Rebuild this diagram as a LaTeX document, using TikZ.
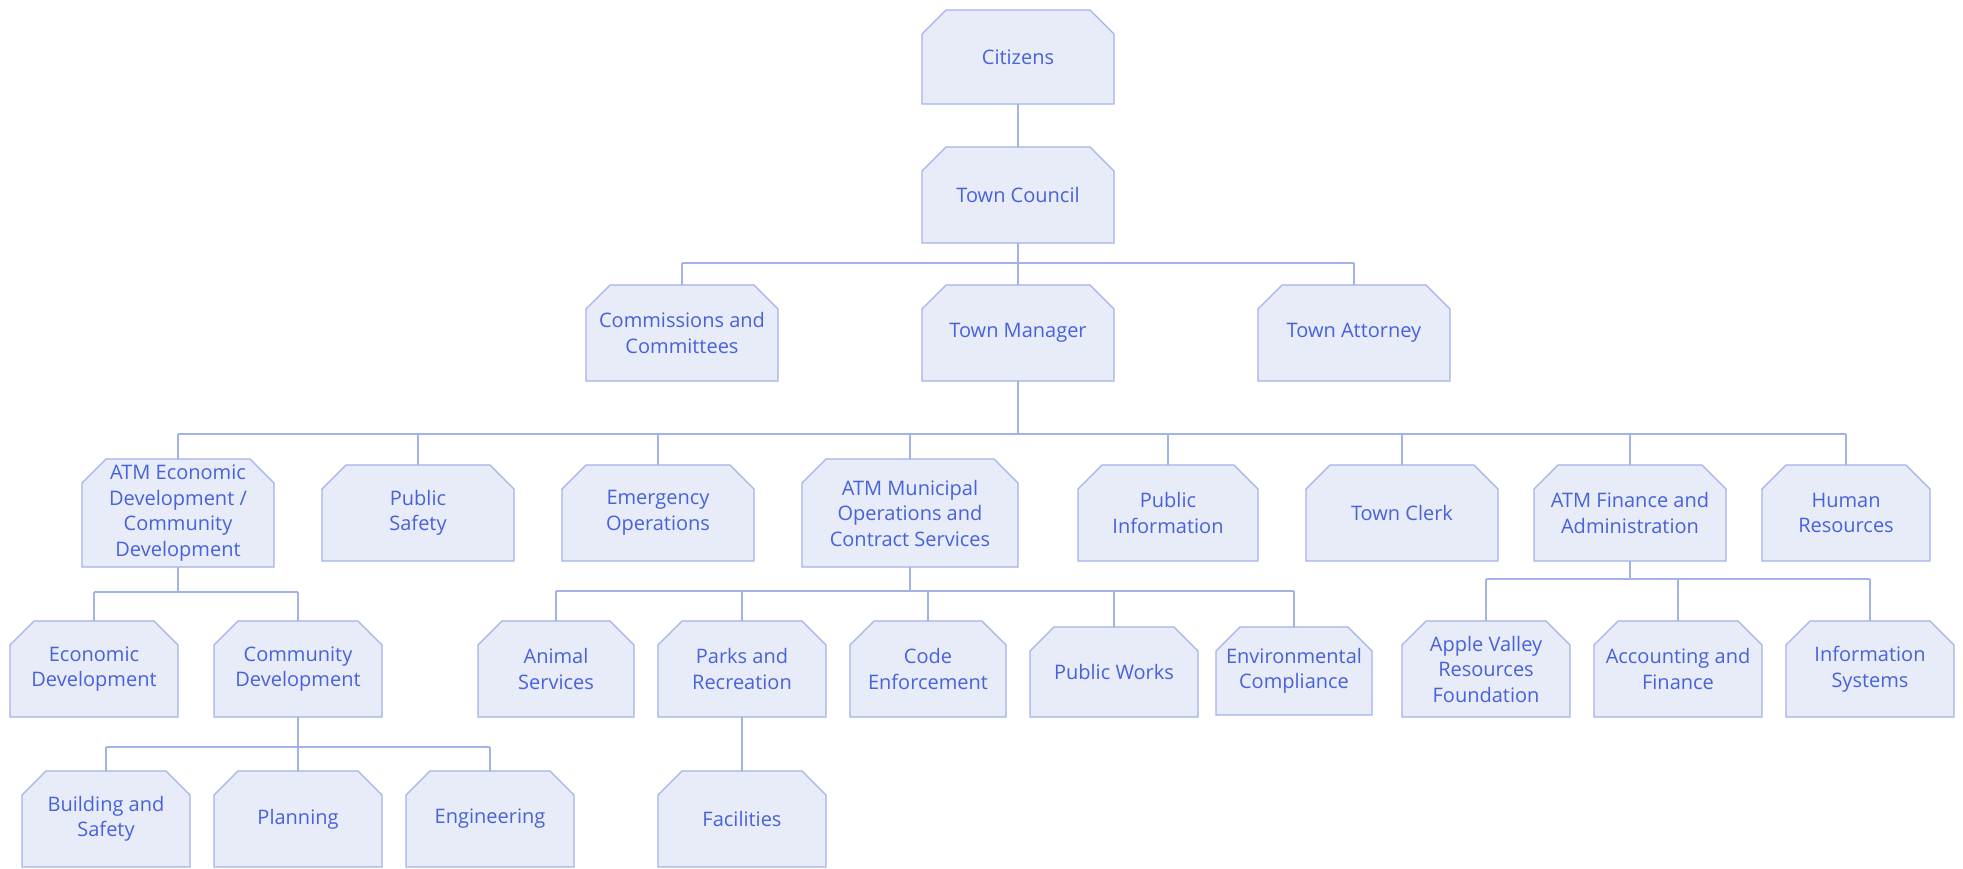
\documentclass[tikz,border=0pt]{standalone}
\usepackage{fontspec}
\setmainfont{Open Sans}
\usetikzlibrary{backgrounds}
\definecolor{orgFill}{HTML}{E8ECF8}
\definecolor{orgLine}{HTML}{A4B2EA}
\definecolor{orgText}{HTML}{4762DA}

\begin{document}
\begin{tikzpicture}[x=1pt, y=-1pt,
    orgbox/.style={rectangle, inner sep=0pt, outer sep=0pt,
        text=orgText, align=center, font=\fontsize{20}{25.5}\selectfont},
    boxline/.style={draw=orgLine, fill=orgFill, line width=1.2pt},
    link/.style={draw=orgLine, line width=1.2pt}]
    \useasboundingbox (0,0) rectangle (1963,868);
    % top of the chart
    \node[orgbox, minimum width=192pt, minimum height=94pt] (cit) at (1018,57) {Citizens};
    \node[orgbox, minimum width=192pt, minimum height=96pt] (council) at (1018,195) {Town Council};
    \node[orgbox, minimum width=192pt, minimum height=96pt] (comm) at (682,333) {Commissions and\\ Committees};
    \node[orgbox, minimum width=192pt, minimum height=96pt] (mgr) at (1018,333) {Town Manager};
    \node[orgbox, minimum width=192pt, minimum height=96pt] (atty) at (1354,333) {Town Attorney};
    % departments
    \node[orgbox, minimum width=192pt, minimum height=108pt] (econatm) at (178,513) {ATM Economic\\ Development /\\ Community\\ Development};
    \node[orgbox, minimum width=192pt, minimum height=96pt] (safety) at (418,513) {Public\\ Safety};
    \node[orgbox, minimum width=192pt, minimum height=96pt] (emerg) at (658,513) {Emergency\\ Operations};
    \node[orgbox, minimum width=216pt, minimum height=108pt] (muni) at (910,513) {ATM Municipal\\ Operations and\\ Contract Services};
    \node[orgbox, minimum width=180pt, minimum height=96pt] (pinfo) at (1168,513) {Public\\ Information};
    \node[orgbox, minimum width=192pt, minimum height=96pt] (clerk) at (1402,513) {Town Clerk};
    \node[orgbox, minimum width=192pt, minimum height=96pt] (fin) at (1630,513) {ATM Finance and\\ Administration};
    \node[orgbox, minimum width=168pt, minimum height=96pt] (hr) at (1846,513) {Human\\ Resources};
    % divisions
    \node[orgbox, minimum width=168pt, minimum height=96pt] (econ) at (94,669) {Economic\\ Development};
    \node[orgbox, minimum width=168pt, minimum height=96pt] (commdev) at (298,669) {Community\\ Development};
    \node[orgbox, minimum width=156pt, minimum height=96pt] (animal) at (556,669) {Animal\\ Services};
    \node[orgbox, minimum width=168pt, minimum height=96pt] (parks) at (742,669) {Parks and\\ Recreation};
    \node[orgbox, minimum width=156pt, minimum height=96pt] (code) at (928,669) {Code\\ Enforcement};
    \node[orgbox, minimum width=168pt, minimum height=90pt] (works) at (1114,672) {Public Works};
    \node[orgbox, minimum width=156pt, minimum height=88pt] (env) at (1294,671) {Environmental\\ Compliance};
    \node[orgbox, minimum width=168pt, minimum height=96pt] (apple) at (1486,669) {Apple Valley\\ Resources\\ Foundation};
    \node[orgbox, minimum width=168pt, minimum height=96pt] (acct) at (1678,669) {Accounting and\\ Finance};
    \node[orgbox, minimum width=168pt, minimum height=96pt] (info) at (1870,669) {Information\\ Systems};
    % bottom row
    \node[orgbox, minimum width=168pt, minimum height=96pt] (build) at (106,819) {Building and\\ Safety};
    \node[orgbox, minimum width=168pt, minimum height=96pt] (plan) at (298,819) {Planning};
    \node[orgbox, minimum width=168pt, minimum height=96pt] (eng) at (490,819) {Engineering};
    \node[orgbox, minimum width=168pt, minimum height=96pt] (fac) at (742,819) {Facilities};

    % box outlines with the two top corners cut
    \begin{scope}[on background layer]
        \foreach \k in {cit,council,comm,mgr,atty,econatm,safety,emerg,muni,pinfo,clerk,fin,hr,
                        econ,commdev,animal,parks,code,works,env,apple,acct,info,build,plan,eng,fac}
            \draw[boxline] (\k.south west) -- ([yshift=-24pt]\k.north west) -- ([xshift=24pt]\k.north west)
                -- ([xshift=-24pt]\k.north east) -- ([yshift=-24pt]\k.north east) -- (\k.south east) -- cycle;
    \end{scope}

    % connector levels
    \coordinate (busA) at (0,263);
    \coordinate (busB) at (0,434);
    \coordinate (busC) at (0,592);
    \coordinate (busD) at (0,591);
    \coordinate (busE) at (0,579);
    \coordinate (busF) at (0,747);

    \draw[link] (cit) -- (council);
    \draw[link] (council) -- (mgr);
    \draw[link] (comm.north |- busA) -- (atty.north |- busA);
    \foreach \k in {comm,atty}
        \draw[link] (\k.north) -- (\k.north |- busA);

    \draw[link] (mgr.south) -- (mgr.south |- busB);
    \draw[link] (econatm.north |- busB) -- (hr.north |- busB);
    \foreach \k in {econatm,safety,emerg,muni,pinfo,clerk,fin,hr}
        \draw[link] (\k.north) -- (\k.north |- busB);

    \draw[link] (econatm.south) -- (econatm.south |- busC);
    \draw[link] (econ.north |- busC) -- (commdev.north |- busC);
    \foreach \k in {econ,commdev}
        \draw[link] (\k.north) -- (\k.north |- busC);

    \draw[link] (muni.south) -- (muni.south |- busD);
    \draw[link] (animal.north |- busD) -- (env.north |- busD);
    \foreach \k in {animal,parks,code,works,env}
        \draw[link] (\k.north) -- (\k.north |- busD);

    \draw[link] (fin.south) -- (fin.south |- busE);
    \draw[link] (apple.north |- busE) -- (info.north |- busE);
    \foreach \k in {apple,acct,info}
        \draw[link] (\k.north) -- (\k.north |- busE);

    \draw[link] (commdev.south) -- (commdev.south |- busF);
    \draw[link] (build.north |- busF) -- (eng.north |- busF);
    \foreach \k in {build,plan,eng}
        \draw[link] (\k.north) -- (\k.north |- busF);

    \draw[link] (parks) -- (fac);
\end{tikzpicture}
\end{document}
